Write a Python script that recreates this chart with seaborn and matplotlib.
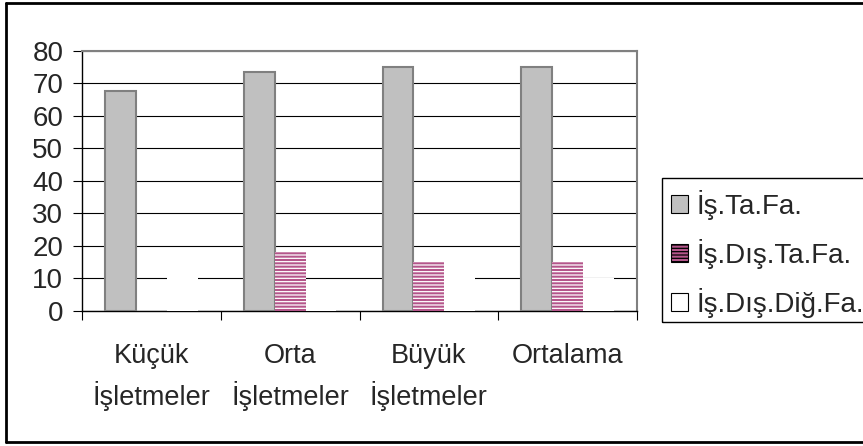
import pandas as pd
import matplotlib
matplotlib.use("Agg")
import matplotlib.pyplot as plt
from matplotlib.patches import Patch, Rectangle
from matplotlib.lines import Line2D
import seaborn as sns

# values
gruplar = ["Küçük\nİşletmeler", "Orta\nİşletmeler", "Büyük\nİşletmeler", "Ortalama"]
seriler = ["İş.Ta.Fa.", "İş.Dış.Ta.Fa.", "İş.Dış.Diğ.Fa."]
is_ta_fa = [67.5, 73.5, 75.0, 75.0]
is_dis_ta_fa = [0.0, 18.2, 15.2, 15.2]
is_dis_dig_fa = [12.0, 8.0, 10.5, 10.0]
y_ticks = [0, 10, 20, 30, 40, 50, 60, 70, 80]

df = pd.DataFrame({
    "grup": gruplar * 3,
    "seri": [s for s in seriler for _ in gruplar],
    "deger": is_ta_fa + is_dis_ta_fa + is_dis_dig_fa,
})

sns.set_style("white")
plt.rcParams["font.family"] = ["Liberation Sans", "DejaVu Sans"]
plt.rcParams["hatch.linewidth"] = 0.9

GRI = "#c0c0c0"
PEMBE = "#b4558a"

W, H = 863, 446
fig = plt.figure(figsize=(W / 100, H / 100), dpi=100)
ax = fig.add_axes([82 / W, 1 - 311 / H, (637 - 82) / W, (311 - 50.7) / H])

sns.barplot(data=df, x="grup", y="deger", hue="seri", order=gruplar, hue_order=seriler,
            palette=[GRI, PEMBE, "#ffffff"], width=0.667, saturation=1,
            legend=False, ax=ax)

# style each series like the old spreadsheet chart
styles = [
    dict(facecolor=GRI, edgecolor="#808080", linewidth=1.5, hatch=None),
    dict(facecolor=PEMBE, edgecolor="white", linewidth=0, hatch="-----"),
    dict(facecolor="white", edgecolor="white", linewidth=0, hatch=None),
]
for cont, st in zip(ax.containers, styles):
    for bar in cont:
        bar.set_facecolor(st["facecolor"])
        bar.set_edgecolor(st["edgecolor"])
        bar.set_linewidth(st["linewidth"])
        bar.set_hatch(st["hatch"])
        bar.set_zorder(3)

ax.set_ylim(0, 80)
ax.set_xlim(-0.5, 3.5)
ax.set_yticks(y_ticks)
ax.yaxis.grid(True, color="black", linewidth=0.8, zorder=0)
ax.set_axisbelow(True)
ax.set_xlabel("")
ax.set_ylabel("")

ax.tick_params(axis="y", left=True, length=6.5, width=0.8, color="black",
               direction="out", pad=7, labelsize=20)
ax.set_xticks(range(len(gruplar)))
ax.set_xticklabels(gruplar, linespacing=1.5)
ax.set_xticks([-0.5, 0.5, 1.5, 2.5, 3.5], minor=True)
ax.tick_params(axis="x", which="major", length=0, pad=23, labelsize=19.5)
ax.tick_params(axis="x", which="minor", bottom=True, length=6.5, width=0.8,
               color="black", direction="out")

for side in ["left", "bottom"]:
    ax.spines[side].set_color("black")
    ax.spines[side].set_linewidth(1.0)
for side in ["top", "right"]:
    ax.spines[side].set_color("#808080")
    ax.spines[side].set_linewidth(1.5)

# legend, with its box drawn separately so it can run off the right edge
handles = [
    Patch(facecolor=GRI, edgecolor="black", linewidth=0.8),
    Patch(facecolor=PEMBE, edgecolor="black", linewidth=0.8, hatch="-----"),
    Patch(facecolor="white", edgecolor="black", linewidth=0.8),
]
fig.legend(handles, seriler, loc="upper left", bbox_to_anchor=(671 / W, 1 - 190 / H),
           frameon=False, fontsize=20, handlelength=0.62, handleheight=0.62,
           handletextpad=0.3, labelspacing=0.68, borderpad=0, borderaxespad=0)
fig.add_artist(Rectangle((662 / W, 1 - 322 / H), 0.3, (322 - 178) / H,
                         transform=fig.transFigure, fill=False,
                         edgecolor="black", linewidth=1.0))

# outer chart border (runs off the right edge)
fig.add_artist(Line2D([6 / W, 6 / W], [1 - 3 / H, 1 - 442 / H], color="black", linewidth=2))
fig.add_artist(Line2D([6 / W, 1.0], [1 - 3 / H, 1 - 3 / H], color="black", linewidth=2))
fig.add_artist(Line2D([6 / W, 1.0], [1 - 442 / H, 1 - 442 / H], color="black", linewidth=2))

fig.savefig("out.png", dpi=100)
plt.close(fig)
